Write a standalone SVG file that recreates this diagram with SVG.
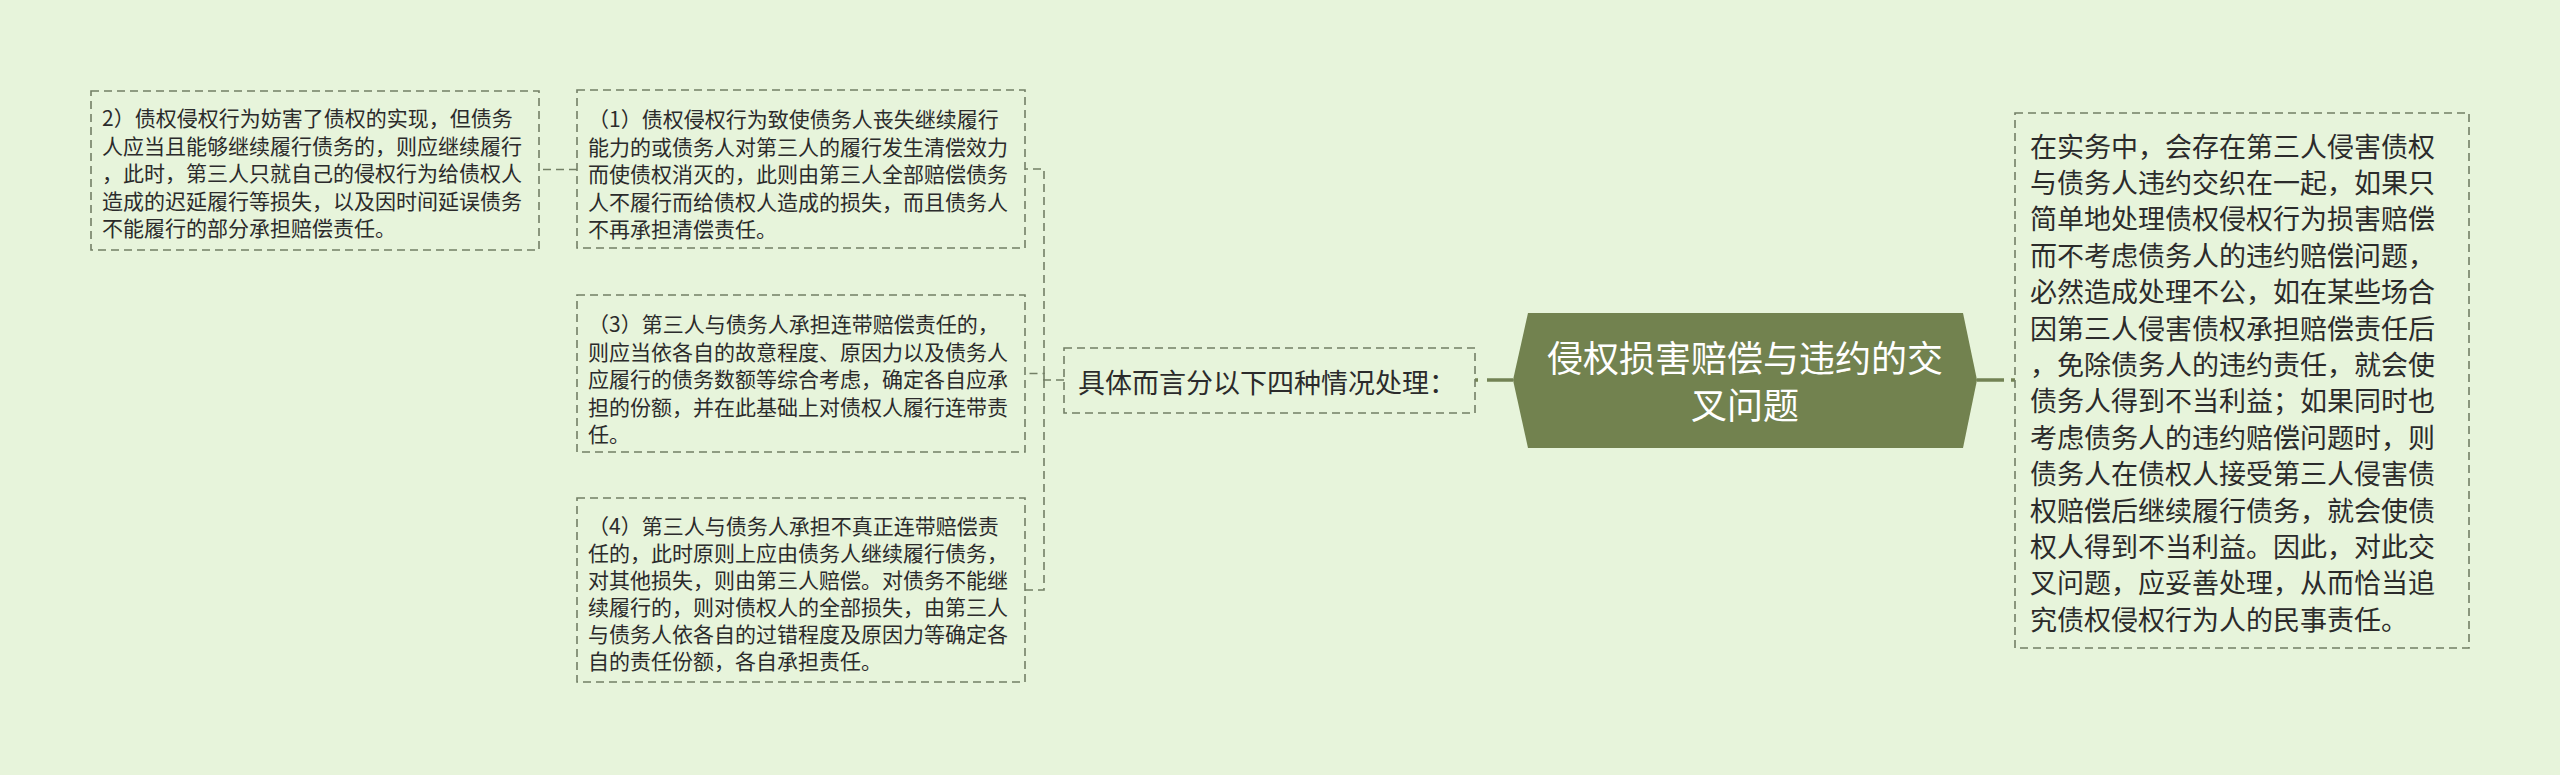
<svg xmlns="http://www.w3.org/2000/svg" width="2560" height="775" viewBox="0 0 2560 775">
<style>
.bg{fill:#e7f4db}
.box{fill:none;stroke:#737f66;stroke-width:1.6;stroke-dasharray:8 5}
.dcon{fill:none;stroke:#737f66;stroke-width:1.6;stroke-dasharray:8 5}
.scon{fill:none;stroke:#738254;stroke-width:3.5}
.t{font-family:"Noto Sans CJK SC","Noto Sans",sans-serif;fill:#2b2b2b;dominant-baseline:central}
.s{font-size:21px}
.m{font-size:27px}
.title{font-family:"Noto Sans CJK SC","Noto Sans",sans-serif;fill:#ffffff;font-size:36px;text-anchor:middle;dominant-baseline:central}
</style>
<rect class="bg" x="0" y="0" width="2560" height="775"/>
<g id="connectors">
<path class="dcon" d="M577,169.5 H539"/>
<path class="dcon" d="M1064,380 H1044 V169 H1025"/>
<path class="dcon" d="M1044,380 V373.5 H1025"/>
<path class="dcon" d="M1044,380 V590 H1025"/>
<path class="scon" d="M1475,380 H1513" stroke-dasharray="3 9 30"/>
<path class="scon" d="M1977,380 H2015" stroke-dasharray="27 7 4"/>
</g>
<g id="node-center">
<polygon points="1513,380 1528,313 1963,313 1977,380 1963,448 1528,448" fill="#72824f"/>
<text class="title" x="1745" y="356">侵权损害赔偿与违约的交</text>
<text class="title" x="1745" y="403">叉问题</text>
</g>
<g id="node-sub">
<rect class="box" x="1064" y="348" width="411" height="65"/>
<text class="t m" x="1078" y="381">具体而言分以下四种情况处理：</text>
</g>
<g id="node-2">
<rect class="box" x="91" y="91" width="448" height="159"/>
<text class="t s" x="102" y="117">2）债权侵权行为妨害了债权的实现，但债务</text>
<text class="t s" x="102" y="144.5">人应当且能够继续履行债务的，则应继续履行</text>
<text class="t s" x="102" y="172">，此时，第三人只就自己的侵权行为给债权人</text>
<text class="t s" x="102" y="199.5">造成的迟延履行等损失，以及因时间延误债务</text>
<text class="t s" x="102" y="227">不能履行的部分承担赔偿责任。</text>
</g>
<g id="node-1">
<rect class="box" x="577" y="90" width="448" height="158"/>
<text class="t s" x="588" y="118">（1）债权侵权行为致使债务人丧失继续履行</text>
<text class="t s" x="588" y="145.5">能力的或债务人对第三人的履行发生清偿效力</text>
<text class="t s" x="588" y="173">而使债权消灭的，此则由第三人全部赔偿债务</text>
<text class="t s" x="588" y="200.5">人不履行而给债权人造成的损失，而且债务人</text>
<text class="t s" x="588" y="228">不再承担清偿责任。</text>
</g>
<g id="node-3">
<rect class="box" x="577" y="295" width="448" height="157"/>
<text class="t s" x="588" y="323">（3）第三人与债务人承担连带赔偿责任的，</text>
<text class="t s" x="588" y="350.5">则应当依各自的故意程度、原因力以及债务人</text>
<text class="t s" x="588" y="378">应履行的债务数额等综合考虑，确定各自应承</text>
<text class="t s" x="588" y="405.5">担的份额，并在此基础上对债权人履行连带责</text>
<text class="t s" x="588" y="433">任。</text>
</g>
<g id="node-4">
<rect class="box" x="577" y="498" width="448" height="184"/>
<text class="t s" x="588" y="525">（4）第三人与债务人承担不真正连带赔偿责</text>
<text class="t s" x="588" y="552">任的，此时原则上应由债务人继续履行债务，</text>
<text class="t s" x="588" y="579">对其他损失，则由第三人赔偿。对债务不能继</text>
<text class="t s" x="588" y="606">续履行的，则对债权人的全部损失，由第三人</text>
<text class="t s" x="588" y="633">与债务人依各自的过错程度及原因力等确定各</text>
<text class="t s" x="588" y="660">自的责任份额，各自承担责任。</text>
</g>
<g id="node-right">
<rect class="box" x="2015" y="113" width="454" height="535"/>
<text class="t m" x="2030" y="145">在实务中，会存在第三人侵害债权</text>
<text class="t m" x="2030" y="181.4">与债务人违约交织在一起，如果只</text>
<text class="t m" x="2030" y="217.8">简单地处理债权侵权行为损害赔偿</text>
<text class="t m" x="2030" y="254.2">而不考虑债务人的违约赔偿问题，</text>
<text class="t m" x="2030" y="290.6">必然造成处理不公，如在某些场合</text>
<text class="t m" x="2030" y="327">因第三人侵害债权承担赔偿责任后</text>
<text class="t m" x="2030" y="363.4">，免除债务人的违约责任，就会使</text>
<text class="t m" x="2030" y="399.8">债务人得到不当利益；如果同时也</text>
<text class="t m" x="2030" y="436.2">考虑债务人的违约赔偿问题时，则</text>
<text class="t m" x="2030" y="472.6">债务人在债权人接受第三人侵害债</text>
<text class="t m" x="2030" y="509">权赔偿后继续履行债务，就会使债</text>
<text class="t m" x="2030" y="545.4">权人得到不当利益。因此，对此交</text>
<text class="t m" x="2030" y="581.8">叉问题，应妥善处理，从而恰当追</text>
<text class="t m" x="2030" y="618.2">究债权侵权行为人的民事责任。</text>
</g>
</svg>
